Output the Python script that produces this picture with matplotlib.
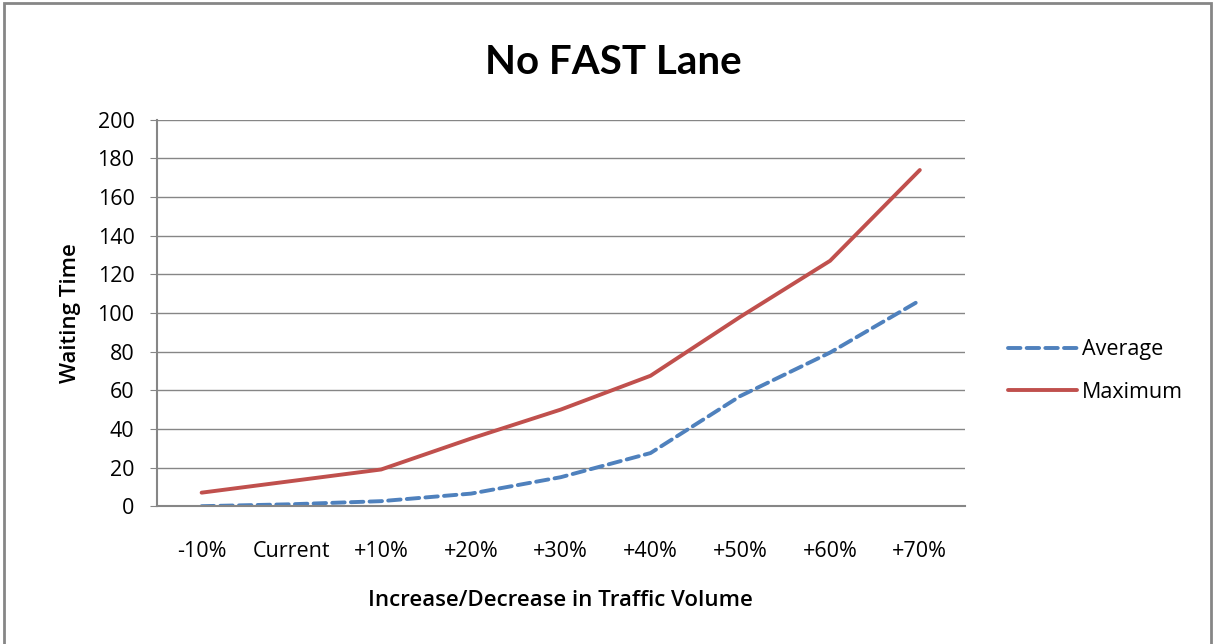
import matplotlib.pyplot as plt
from matplotlib.patches import Rectangle

categories = ["-10%", "Current", "+10%", "+20%", "+30%", "+40%", "+50%", "+60%", "+70%"]
average = [0, 1, 2.6, 6.5, 15, 27.5, 57, 79.5, 106.5]
maximum = [7, 13, 19, 35, 50, 67.5, 98, 127, 174]

plt.rcParams['font.family'] = ['Open Sans', 'DejaVu Sans']

fig = plt.figure(figsize=(12.15, 6.44), dpi=100)
ax = fig.add_axes([0.129, 0.214, 0.665, 0.600])

x = range(len(categories))
ax.plot(x, average, color="#4F81BD", lw=2.8, dashes=(3.2, 1.6),
        dash_capstyle="round", label="Average")
ax.plot(x, maximum, color="#C0504D", lw=2.8, solid_capstyle="round",
        label="Maximum")

ax.set_xlim(-0.5, len(categories) - 0.5)
ax.set_ylim(0, 200)
ax.set_yticks(range(0, 201, 20))
ax.set_xticks(list(x))
ax.set_xticklabels(categories)
ax.yaxis.grid(True, color="#868686", lw=1)
ax.set_axisbelow(True)
for s in ["top", "right"]:
    ax.spines[s].set_visible(False)
for s in ["left", "bottom"]:
    ax.spines[s].set_color("#868686")
    ax.spines[s].set_linewidth(1.5)
ax.tick_params(axis="y", length=5, color="#868686", labelsize=15.5, pad=11)
ax.tick_params(axis="x", length=0, labelsize=15.5, pad=25)

fig.text(0.505, 0.903, "No FAST Lane", fontsize=29, fontweight="bold",
         family=['Lato', 'DejaVu Sans'], ha="center", va="center")
ax.set_ylabel("Waiting Time", fontsize=16, fontweight="semibold", labelpad=12)
ax.set_xlabel("Increase/Decrease in Traffic Volume", fontsize=16,
              fontweight="semibold", labelpad=20)

ax.legend(loc="center left", bbox_to_anchor=(1.03, 0.35), frameon=False,
          fontsize=15.5, handlelength=3.2, handletextpad=0.2, labelspacing=1.0)

fig.patches.append(Rectangle((0.003, -0.01), 0.994, 1.005, transform=fig.transFigure,
                             fill=False, edgecolor="#868686", lw=2))

fig.savefig("out.png", dpi=100)
